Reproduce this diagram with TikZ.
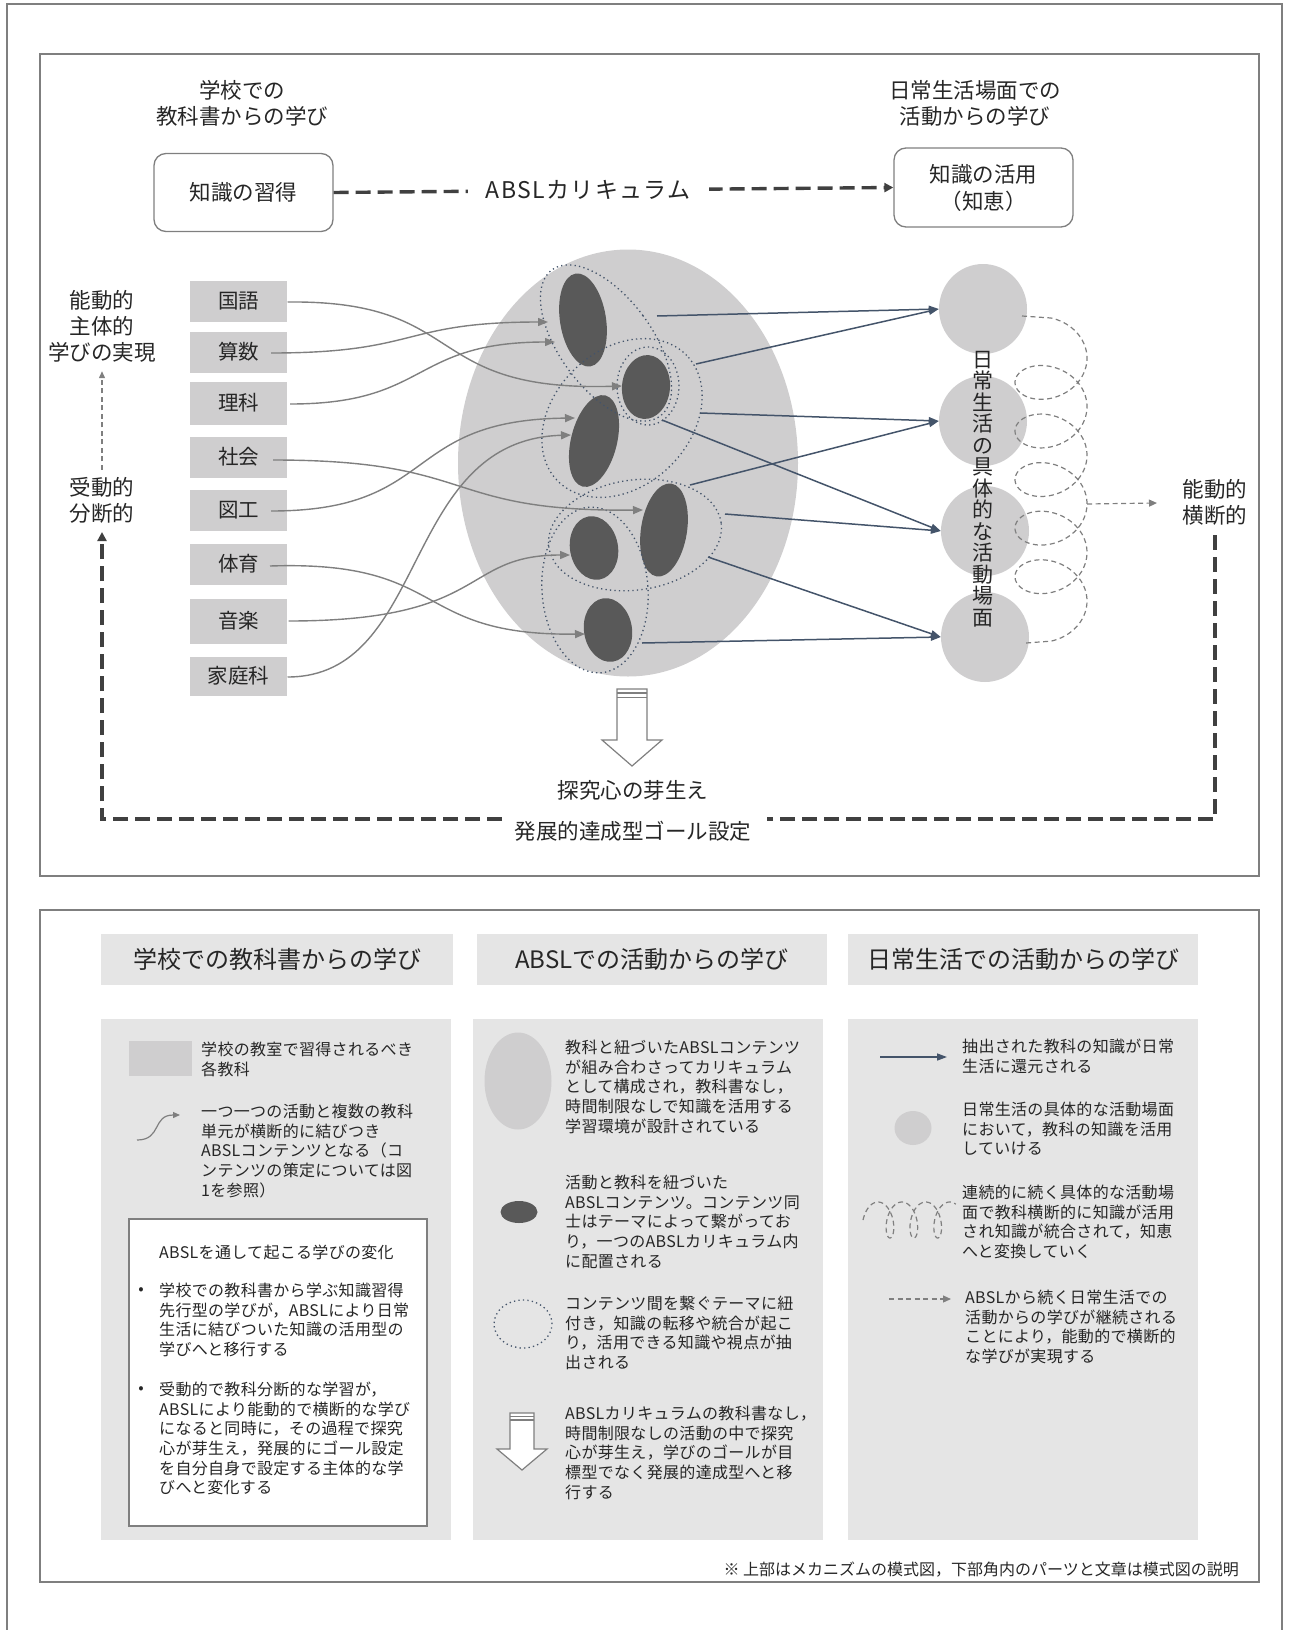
\documentclass[tikz,border=0pt]{standalone}
\usepackage{fontspec}
\setmainfont{Noto Sans CJK JP}
\usetikzlibrary{arrows.meta,shapes.geometric}
\definecolor{txt}{HTML}{262626}
\definecolor{lgray}{HTML}{CFCECF}
\definecolor{dgray}{HTML}{595959}
\definecolor{pgray}{HTML}{E5E5E5}
\definecolor{mgray}{HTML}{7F7F7F}
\definecolor{slate}{HTML}{44546A}
\definecolor{dk}{HTML}{404040}
\begin{document}
\begin{tikzpicture}[x=1pt,y=-1pt,
 every node/.style={text=txt},
 jp/.style={font=\fontsize{21.5}{26}\selectfont, align=center, inner sep=0pt},
 subj/.style={rectangle, fill=lgray, minimum width=97pt, minimum height=41pt, inner sep=0pt, font=\fontsize{20.5}{24}\selectfont},
 kbox/.style={rectangle, rounded corners=12pt, draw=mgray, line width=1.3pt, minimum width=179pt, minimum height=78pt, font=\fontsize{21.5}{27}\selectfont, align=center},
 darkell/.style={ellipse, fill=dgray, inner sep=0pt},
 ring/.style={ellipse, draw=slate, line width=1.3pt, dash pattern=on 1.3pt off 3.2pt, inner sep=0pt},
 scene/.style={ellipse, fill=lgray, minimum width=88pt, minimum height=90pt, inner sep=0pt},
 garrow/.style={draw=mgray, line width=1.4pt, -{Triangle[length=10pt,width=8pt]}},
 barrow/.style={draw=slate, line width=1.5pt, -{Triangle[length=10pt,width=7pt]}},
 coil/.style={draw=mgray, line width=1.2pt, dash pattern=on 5pt off 3.5pt},
 tdash/.style={draw=dk, line width=3.4pt, dash pattern=on 15pt off 7pt},
 frameline/.style={draw=mgray, line width=1.4pt},
 ltext/.style={anchor=north west, align=left, inner sep=0pt, font=\fontsize{16}{19.6}\selectfont\addfontfeature{LetterSpace=2}},
 bullet/.style={inner sep=0pt, font=\fontsize{16}{19.6}\selectfont},
 hdr/.style={rectangle, fill=pgray, inner sep=0pt, minimum height=51pt, font=\fontsize{24}{28}\selectfont},
 panel/.style={fill=pgray},
]
\useasboundingbox (0,0) rectangle (1291,1630);
% outer and section frames
\draw[frameline] (7,1640) -- (7,4) -- (1282,4) -- (1282,1640);
\draw[frameline] (40,54) rectangle (1259,876);
\draw[frameline] (40,910) rectangle (1259,1582);

% top labels and boxes
\node[jp] (tl) at (242,103) {学校での\\教科書からの学び};
\node[jp] (tr) at (975,103) {日常生活場面での\\活動からの学び};
\node[kbox] (k1) at (243.5,192.5) {知識の習得};
\node[kbox, minimum height=79pt] (k2) at (983.5,187.5) {知識の活用\\（知恵）};
\draw[tdash, -{Triangle[length=9pt,width=9pt]}] (k1.east) -- node[pos=0.455, fill=white, inner ysep=2pt, inner xsep=18pt, font=\fontsize{23}{26}\selectfont\addfontfeature{LetterSpace=6}]{ABSLカリキュラム} (k2.west);

% side labels
\node[jp] (L1) at (102,326) {能動的\\主体的\\学びの実現};
\node[jp] (L2) at (102,500) {受動的\\分断的};
\node[jp] (R1) at (1215,502) {能動的\\横断的};
\draw[coil, -{Triangle[length=7pt,width=6pt]}, shorten <=7pt, shorten >=9pt] (L2.north) -- (L1.south);

% subject boxes
\node[subj] (kokugo) at (238.5,301) {国語};
\node[subj] (sansu) at (238.5,352) {算数};
\node[subj, minimum height=43pt] (rika) at (238.5,403) {理科};
\node[subj] (shakai) at (238.5,457) {社会};
\node[subj] (zuko) at (238.5,510) {図工};
\node[subj] (taiiku) at (238.5,564) {体育};
\node[subj, minimum height=45pt] (ongaku) at (238.5,621) {音楽};
\node[subj, minimum height=39pt] (katei) at (238.5,676) {家庭科};

% big curriculum ellipse
\node[ellipse, fill=lgray, minimum width=340pt, minimum height=427pt, inner sep=0pt] (big) at (628,463) {};
% contents
\node[darkell, minimum width=46pt, minimum height=94pt, rotate=9] (d1) at (583,320) {};
\node[darkell, minimum width=48pt, minimum height=64pt, rotate=-5] (d2) at (646,387) {};
\node[darkell, minimum width=46pt, minimum height=94pt, rotate=-14] (d3) at (594,441) {};
\node[darkell, minimum width=46pt, minimum height=94pt, rotate=-9] (d4) at (664,530) {};
\node[darkell, minimum width=48pt, minimum height=64pt, rotate=10] (d5) at (594,548) {};
\node[darkell, minimum width=48pt, minimum height=64pt, rotate=9] (d6) at (608,630) {};
% theme rings
\node[ring, minimum width=92pt, minimum height=182pt, rotate=36.5] (ra) at (606,343) {};
\node[ring, minimum width=62pt, minimum height=78pt] (rb2) at (648,386) {};
\node[ring, minimum width=180pt, minimum height=136pt, rotate=44] (rb) at (622,418) {};
\node[ring, minimum width=174pt, minimum height=110pt, rotate=8] (rc) at (635,535) {};
\node[ring, minimum width=106pt, minimum height=166pt, rotate=4] (rd) at (595,590) {};

% subject -> content arrows
\coordinate (s1) at (287.5,302); \coordinate (e1) at (622,386);
\coordinate (s2) at (271,353);   \coordinate (e2) at (548,322);
\coordinate (s3) at (290,404);   \coordinate (e3) at (555,342);
\coordinate (s4) at (273,460);   \coordinate (e4) at (643,510);
\coordinate (s5) at (271,511);   \coordinate (e5) at (575,418);
\coordinate (s6) at (270,566);   \coordinate (e6) at (585,634);
\coordinate (s7) at (288.5,621); \coordinate (e7) at (570,555);
\coordinate (s8) at (287.5,677); \coordinate (e8) at (571,435);
\draw[garrow] (s1) .. controls (470,300) and (420,392) .. (e1);
\draw[garrow] (s2) .. controls (420,353) and (400,322) .. (e2);
\draw[garrow] (s3) .. controls (430,404) and (410,342) .. (e3);
\draw[garrow] (s4) .. controls (480,460) and (440,512) .. (e4);
\draw[garrow] (s5) .. controls (440,511) and (400,420) .. (e5);
\draw[garrow] (s6) .. controls (450,560) and (410,636) .. (e6);
\draw[garrow] (s7) .. controls (490,621) and (460,555) .. (e7);
\draw[garrow] (s8) .. controls (430,677) and (400,440) .. (e8);

% daily-life scenes
\node[scene] (c1) at (983,309) {};
\node[scene] (c2) at (983,421) {};
\node[scene] (c3) at (985,531) {};
\node[scene] (c4) at (985,637) {};

% knowledge -> scenes
\coordinate (b1) at (657,316);
\coordinate (b2) at (696,364);
\coordinate (b3) at (700,413);
\coordinate (b4) at (662,420);
\coordinate (b5) at (690,485);
\coordinate (b6) at (725,514);
\coordinate (b7) at (708,557);
\coordinate (b8) at (642,643);
\draw[barrow] (b1) -- (c1.west);
\draw[barrow] (b2) -- (c1.west);
\draw[barrow] (b3) -- (c2.west);
\draw[barrow] (b4) -- (c3.west);
\draw[barrow] (b5) -- (c2.west);
\draw[barrow] (b6) -- (c3.west);
\draw[barrow] (b7) -- (c4.west);
\draw[barrow] (b8) -- (c4.west);

% coil
\coordinate (cs) at (1022,316);
\coordinate (ce) at (1026,643);
\draw[coil] (cs) -- plot[domain=-1.5708:32.9867, samples=400, variable=\t] ({1051+36*cos(\t r)}, {318+7.73*(\t+1.5708)+28*(sin(\t r)+1)}) -- (ce);
\coordinate (k3) at (1087,504);
\draw[coil, -{Triangle[length=8pt,width=7pt]}] (k3) -- (1157,503);

% vertical label
\node[align=center, inner sep=0pt, font=\fontsize{21}{21.5}\selectfont] (vt) at (983,489) {日\\常\\生\\活\\の\\具\\体\\的\\な\\活\\動\\場\\面};

% block arrow
\draw[mgray, fill=white, line width=1.2pt] (617,689) -- (647,689) -- (647,740) -- (662,740) -- (632,766) -- (602,740) -- (617,740) -- cycle;
\draw[mgray, line width=1.2pt] (617,693) -- (647,693) (617,697.5) -- (647,697.5);
\node[jp] (tan) at (633,790) {探究心の芽生え};
\node[jp] (goal) at (633,831) {発展的達成型ゴール設定};

% feedback dashed line
\coordinate (fbR) at (1215,535);
\coordinate (fbRc) at (1215,819);
\coordinate (gapR) at (767,819);
\coordinate (gapL) at (502,819);
\coordinate (fbLc) at (102,819);
\coordinate (fbLt) at (102,532);
\draw[tdash] (fbR) -- (fbRc) -- (gapR);
\draw[tdash, -{Triangle[length=9pt,width=9pt]}] (gapL) -- (fbLc) -- (fbLt);

% ===== lower legend =====
\node[hdr, minimum width=352pt] (h1) at (277,959.5) {学校での教科書からの学び};
\node[hdr, minimum width=350pt] (h2) at (652,959.5) {ABSLでの活動からの学び};
\node[hdr, minimum width=350pt] (h3) at (1023,959.5) {日常生活での活動からの学び};
\fill[panel] (101,1019) rectangle (451,1540);
\fill[panel] (473,1019) rectangle (823,1540);
\fill[panel] (848,1019) rectangle (1198,1540);

% column 1
\fill[lgray] (129,1041) rectangle (192,1076);
\node[ltext] (t11) at (201,1042) {学校の教室で習得されるべき\\各教科};
\coordinate (i1a) at (137,1140); \coordinate (i1b) at (180,1115);
\draw[draw=mgray, line width=1.2pt, -{Triangle[length=7pt,width=6pt]}] (i1a) .. controls (162,1140) and (152,1115) .. (i1b);
\node[ltext] (t12) at (201,1104) {一つ一つの活動と複数の教科\\単元が横断的に結びつき\\ABSLコンテンツとなる（コ\\ンテンツの策定については図\\1を参照）};
\draw[mgray, fill=white, line width=1.2pt] (129,1219) rectangle (427,1526);
\node[ltext] (wt) at (159,1245) {ABSLを通して起こる学びの変化};
\node[bullet] (bu1) at (141,1291) {•};
\node[ltext] (t13) at (159,1283) {学校での教科書から学ぶ知識習得\\先行型の学びが，ABSLにより日常\\生活に結びついた知識の活用型の\\学びへと移行する};
\node[bullet] (bu2) at (141,1390) {•};
\node[ltext] (t14) at (159,1382) {受動的で教科分断的な学習が，\\ABSLにより能動的で横断的な学び\\になると同時に，その過程で探究\\心が芽生え，発展的にゴール設定\\を自分自身で設定する主体的な学\\びへと変化する};

% column 2
\node[ellipse, fill=lgray, minimum width=67pt, minimum height=97pt, inner sep=0pt] (i21) at (518,1081) {};
\node[ltext] (t21) at (565,1040) {教科と紐づいたABSLコンテンツ\\が組み合わさってカリキュラム\\として構成され，教科書なし，\\時間制限なしで知識を活用する\\学習環境が設計されている};
\node[darkell, minimum width=37pt, minimum height=22pt] (i22) at (519,1212) {};
\node[ltext] (t22) at (565,1175) {活動と教科を紐づいた\\ABSLコンテンツ。コンテンツ同\\士はテーマによって繋がってお\\り，一つのABSLカリキュラム内\\に配置される};
\node[ring, minimum width=58pt, minimum height=48pt] (i23) at (523,1324) {};
\node[ltext] (t23) at (565,1296) {コンテンツ間を繋ぐテーマに紐\\付き，知識の転移や統合が起こ\\り，活用できる知識や視点が抽\\出される};
\draw[mgray, fill=white, line width=1.2pt] (510,1413) -- (534,1413) -- (534,1449) -- (547,1449) -- (522,1470) -- (497,1449) -- (510,1449) -- cycle;
\draw[mgray, line width=1.2pt] (510,1416.5) -- (534,1416.5) (510,1420) -- (534,1420);
\node[ltext] (t24) at (565,1406) {ABSLカリキュラムの教科書なし，\\時間制限なしの活動の中で探究\\心が芽生え，学びのゴールが目\\標型でなく発展的達成型へと移\\行する};

% column 3
\coordinate (i31a) at (880,1057); \coordinate (i31b) at (947,1057);
\draw[barrow] (i31a) -- (i31b);
\node[ltext] (t31) at (962,1039) {抽出された教科の知識が日常\\生活に還元される};
\node[ellipse, fill=lgray, minimum width=37pt, minimum height=34pt, inner sep=0pt] (i32) at (913,1128) {};
\node[ltext] (t32) at (962,1102) {日常生活の具体的な活動場面\\において，教科の知識を活用\\していける};
\draw[coil] plot[domain=-1.5708:19.35, samples=200, variable=\t] ({878+3.8*\t+9*sin(\t r)}, {1220-18*cos(\t r)});
\node[ltext] (t33) at (962,1185) {連続的に続く具体的な活動場\\面で教科横断的に知識が活用\\され知識が統合されて，知恵\\へと変換していく};
\coordinate (i34a) at (889,1299); \coordinate (i34b) at (951,1299);
\draw[coil, -{Triangle[length=8pt,width=7pt]}] (i34a) -- (i34b);
\node[ltext] (t34) at (965,1290) {ABSLから続く日常生活での\\活動からの学びが継続される\\ことにより，能動的で横断的\\な学びが実現する};

% footnote
\node[anchor=east, inner sep=0pt, font=\fontsize{16}{19}\selectfont] (fn) at (1239,1570) {※ 上部はメカニズムの模式図，下部角内のパーツと文章は模式図の説明};
\end{tikzpicture}
\end{document}
